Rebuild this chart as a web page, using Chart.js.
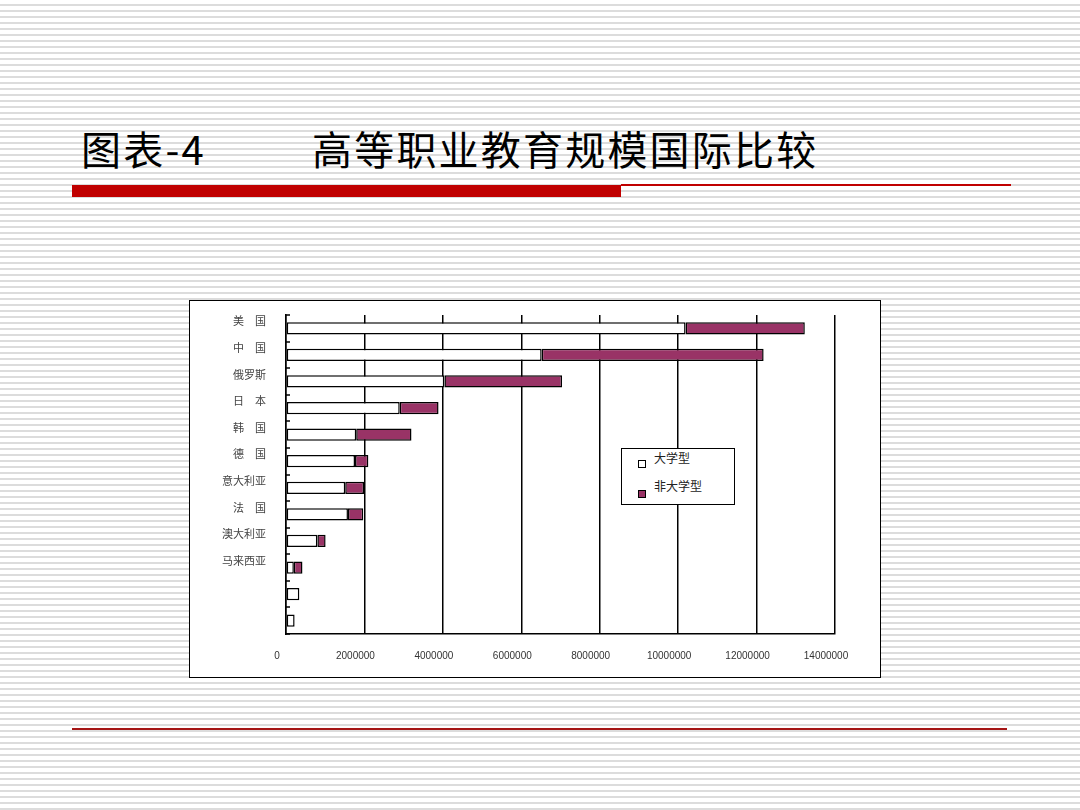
<!DOCTYPE html>
<html>
<head>
<meta charset="utf-8">
<script src="https://cdn.jsdelivr.net/npm/chart.js@4.4.1/dist/chart.umd.min.js"></script>
<style>
    html, body { margin: 0; padding: 0; }
    body {
        width: 1080px; height: 810px; position: relative; overflow: hidden;
        background: repeating-linear-gradient(to bottom, #fff 0px, #fff 4px, #dcdcdc 4px, #dcdcdc 6px);
        font-family: "Noto Sans CJK SC", sans-serif;
    }
    .title { position: absolute; top: 126px; font-size: 40px; font-weight: 400; color: #000; letter-spacing: 2.2px; line-height: 1.1; }
    .bar-thick { position: absolute; left: 72px; top: 185px; width: 549px; height: 12px; background: #c00000; }
    .bar-thin { position: absolute; left: 621px; top: 184px; width: 390px; height: 2px; background: #c00000; }
    .bottom-line { position: absolute; left: 72px; top: 728px; width: 935px; height: 2px; background: #a51515; }
    .chart-box { position: absolute; left: 189px; top: 300px; width: 690px; height: 376px; border: 1px solid #000; background: #fff; }
    .legend { position: absolute; left: 431px; top: 147px; width: 112px; height: 55px; border: 1px solid #000; background: #fff; font-size: 12px; color: #222; }
    .legend .item { position: absolute; left: 0; }
    .legend .sw { position: absolute; left: 16px; width: 6px; height: 6px; border: 1px solid #000; }
    .legend .tx { position: absolute; left: 32px; white-space: nowrap; }
</style>
</head>
<body>
<div class="title" style="left:81px;">图表-4</div>
<div class="title" style="left:312px;">高等职业教育规模国际比较</div>
<div class="bar-thick"></div>
<div class="bar-thin"></div>
<div class="bottom-line"></div>

<div class="chart-box">
    <canvas id="scaleChart" width="690" height="376"></canvas>
    <div class="legend" id="legend"></div>
</div>

<script>
// --- data ---
const categories = ['美　国', '中　国', '俄罗斯', '日　本', '韩　国', '德　国', '意大利亚', '法　国', '澳大利亚', '马来西亚', '', ''];
const universityType = [10190000, 6520000, 4040000, 2900000, 1790000, 1760000, 1510000, 1580000, 800000, 200000, 340000, 220000];
const nonUniversityType = [3040000, 5660000, 3000000, 990000, 1410000, 340000, 480000, 390000, 210000, 220000, null, null];
const seriesNames = ['大学型', '非大学型'];
const xMax = 14000000;
const xStep = 2000000;

// inward tick marks on the category axis
const innerTicks = {
    id: 'innerTicks',
    afterDraw(chart) {
        const { ctx, chartArea } = chart;
        const n = categories.length;
        const step = (chartArea.bottom - chartArea.top) / n;
        ctx.save();
        ctx.strokeStyle = '#000';
        ctx.lineWidth = 1.5;
        for (let i = 0; i <= n; i++) {
            const y = Math.round(chartArea.top + i * step);
            ctx.beginPath();
            ctx.moveTo(chartArea.left, y);
            ctx.lineTo(chartArea.left + 4, y);
            ctx.stroke();
        }
        ctx.restore();
    }
};

const chart = new Chart(document.getElementById('scaleChart'), {
    type: 'bar',
    data: {
        labels: categories,
        datasets: [{
            label: seriesNames[0],
            data: universityType,
            backgroundColor: '#ffffff',
            borderColor: '#000',
            borderWidth: 1.5,
            borderSkipped: false
        }, {
            label: seriesNames[1],
            data: nonUniversityType,
            backgroundColor: '#993366',
            borderColor: '#000',
            borderWidth: 1.5,
            borderSkipped: false
        }]
    },
    options: {
        indexAxis: 'y',
        responsive: false,
        animation: false,
        barPercentage: 0.46,
        categoryPercentage: 1,
        layout: { padding: { top: 14, right: 45, left: 0, bottom: 0 } },
        plugins: {
            legend: { display: false },
            tooltip: { enabled: false }
        },
        scales: {
            x: {
                stacked: true,
                min: 0,
                max: xMax,
                afterFit: (s) => { s.height = 43; s.paddingLeft = 0; s.paddingRight = 0; },
                border: { color: '#000', width: 1.5 },
                grid: { color: '#000', lineWidth: 1.5, drawTicks: false },
                ticks: {
                    stepSize: xStep,
                    padding: 16,
                    labelOffset: -9,
                    color: '#333',
                    font: { family: 'Liberation Sans', size: 10 },
                    callback: (v) => String(v)
                }
            },
            y: {
                stacked: true,
                afterFit: (s) => { s.width = 96; s.paddingTop = 0; s.paddingBottom = 0; },
                border: { color: '#000', width: 1.5 },
                grid: { display: false, drawTicks: false },
                ticks: {
                    padding: 20,
                    labelOffset: -7,
                    color: '#444',
                    font: { family: 'Noto Sans CJK SC', size: 11 }
                }
            }
        }
    },
    plugins: [innerTicks]
});

// --- legend (HTML, from the dataset settings) ---
const legend = document.getElementById('legend');
chart.data.datasets.forEach((ds, i) => {
    const item = document.createElement('div');
    item.className = 'item';
    item.style.top = (i === 0 ? 0 : 28) + 'px';
    item.innerHTML = `<span class="sw" style="top:${i === 0 ? 11 : 13}px;background:${ds.backgroundColor}"></span>` +
        `<span class="tx">${ds.label}</span>`;
    legend.appendChild(item);
});
</script>
</body>
</html>
